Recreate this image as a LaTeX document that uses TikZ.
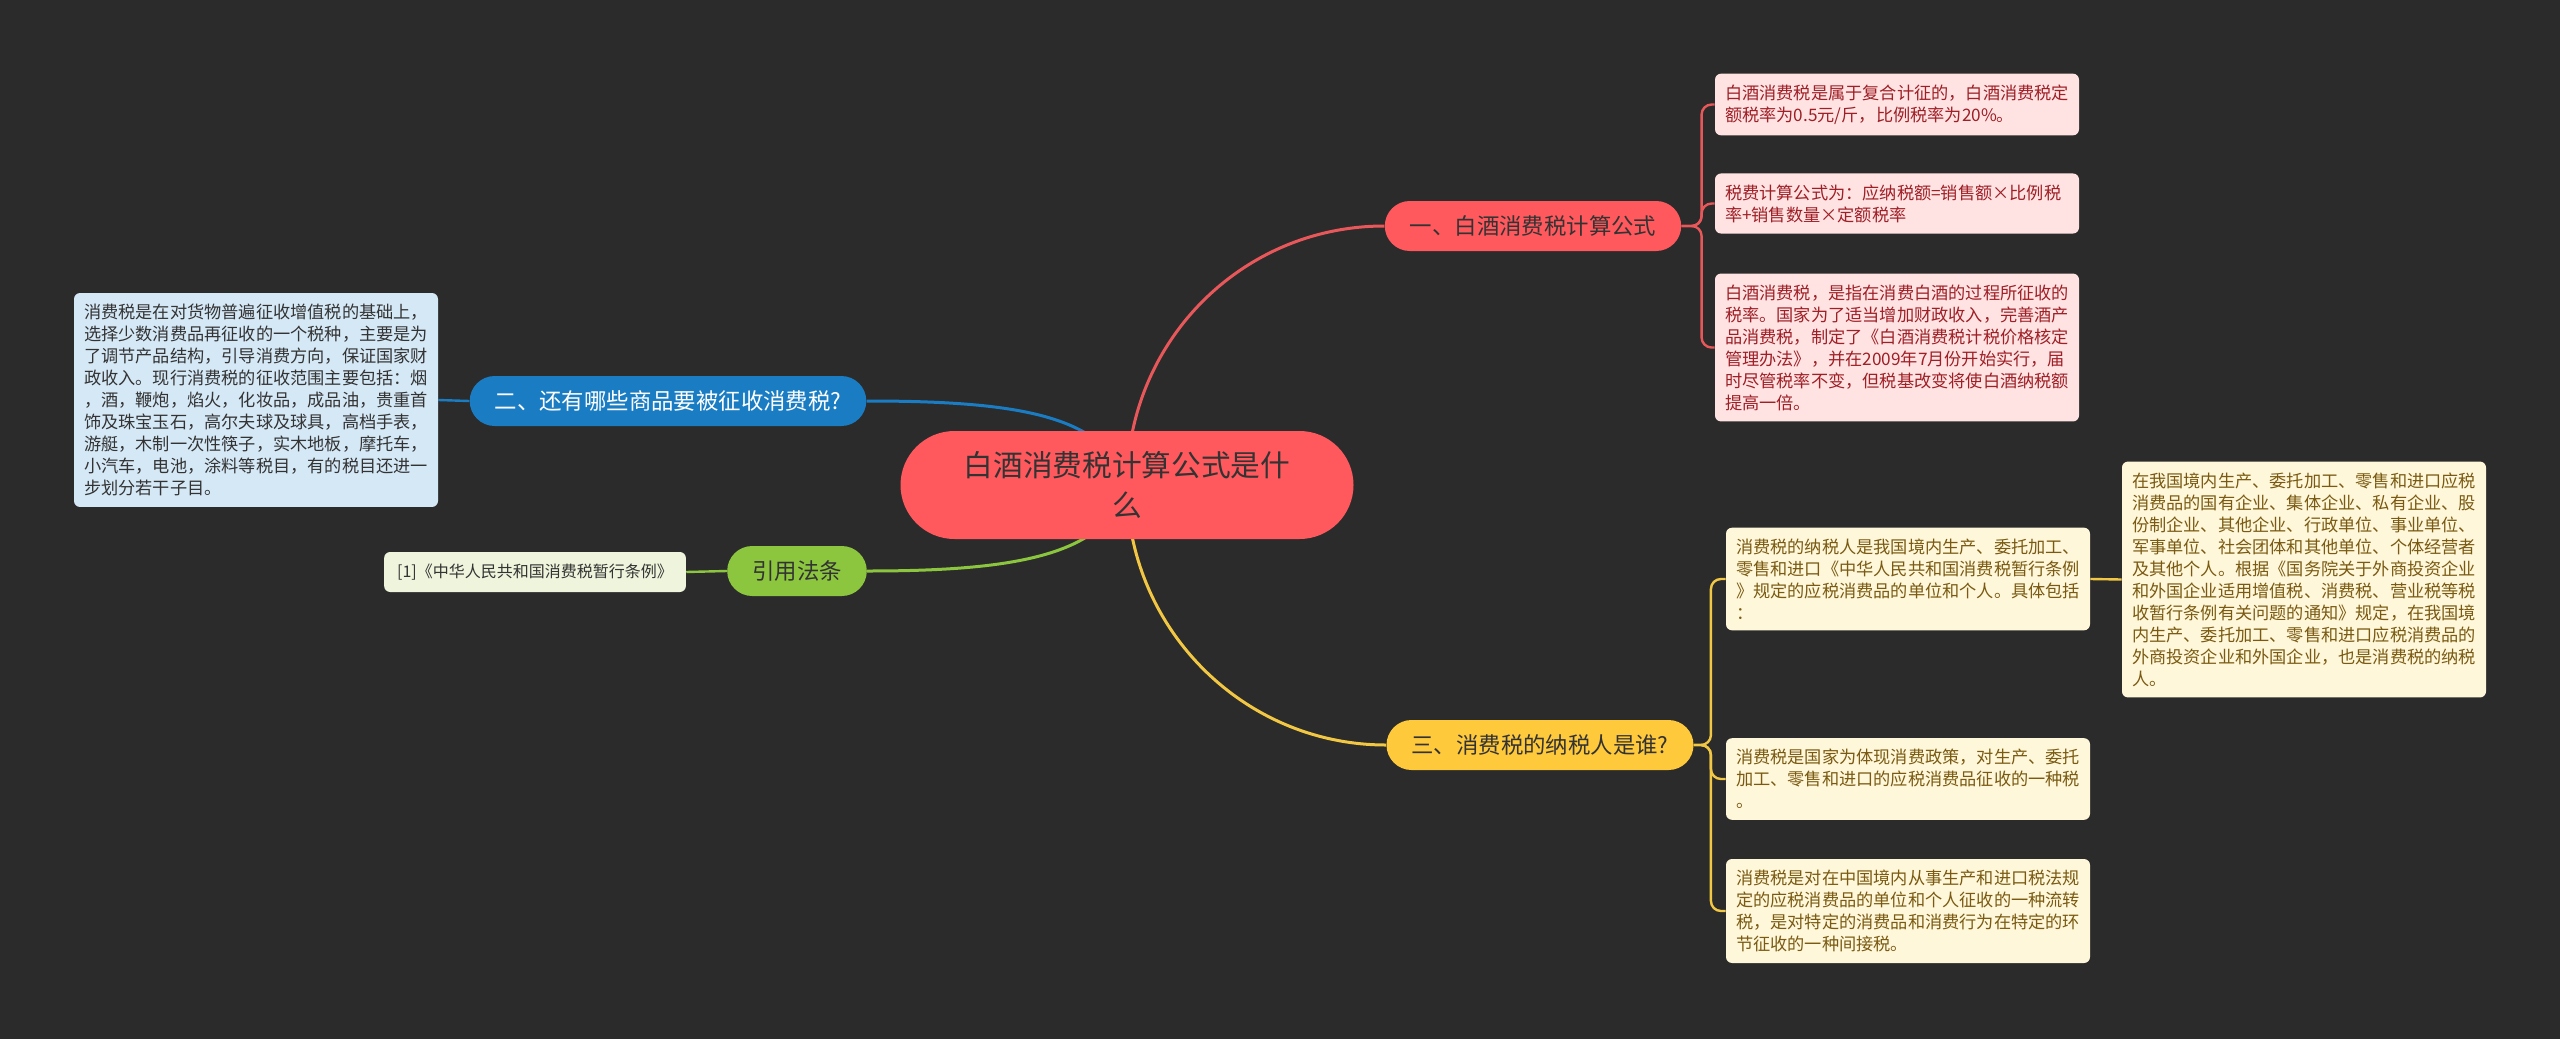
\documentclass[tikz,border=0pt]{standalone}
\usepackage{fontspec}
\setmainfont{Noto Sans CJK SC}
\usepackage{xcolor}
\definecolor{canvasgray}{HTML}{2B2B2B}
\definecolor{topicred}{HTML}{FF595E}
\definecolor{linkred}{HTML}{E8575A}
\definecolor{leafpink}{HTML}{FFE3E3}
\definecolor{inkred}{HTML}{9E1F26}
\definecolor{topicblue}{HTML}{1A7DC4}
\definecolor{leafblue}{HTML}{D5E8F6}
\definecolor{topicgreen}{HTML}{8CC63F}
\definecolor{leafgreen}{HTML}{EEF5DC}
\definecolor{topicyellow}{HTML}{FFC93C}
\definecolor{linkyellow}{HTML}{F2C744}
\definecolor{leafcream}{HTML}{FFF7DA}
\definecolor{inkbrown}{HTML}{7A5A12}
\definecolor{inkdark}{HTML}{333333}
\pgfdeclarelayer{canvas}
\pgfdeclarelayer{edges}
\pgfsetlayers{canvas,edges,main}

\begin{document}
\begin{tikzpicture}[x=0.5pt, y=0.5pt,
        % Define styles for the boxes and the connectors
        topic/.style={fill=topicred, text=inkdark, rounded corners=27pt, minimum width=226.5pt, minimum height=54pt, align=center, font=\fontsize{14.85pt}{20pt}\selectfont},
        branch/.style={rounded corners=12.5pt, minimum height=25pt, inner xsep=12.5pt, inner ysep=0pt, text=inkdark, font=\fontsize{11.2pt}{14pt}\selectfont},
        leaf/.style={rounded corners=3pt, text width=172pt, inner xsep=5pt, inner ysep=5.5pt, align=left, font=\fontsize{8.6pt}{11pt}\selectfont},
        link/.style={line width=1.5pt},
        twig/.style={line width=1.2pt, rounded corners=5pt}]

        \begin{pgfonlayer}{canvas}
        \fill[canvasgray] (0,0) rectangle (2560,-1039);
        \end{pgfonlayer}
        \useasboundingbox (0,0) rectangle (2560,-1039);

        % 1. Define the centres of the boxes
        \coordinate (R) at (1127,-485); % The central topic
        \coordinate (C) at (1533,-226);
        \coordinate (G) at (668,-401);
        \coordinate (L) at (797,-571);
        \coordinate (P) at (1540,-745);

        % 2. Central topic and the four branches
        \node[topic] (root) at (R) {白酒消费税计算公式是什\\么};
        \node[branch, fill=topicred] (calc) at (C) {一、白酒消费税计算公式};
        \node[branch, fill=topicblue, text=white] (goods) at (G) {二、还有哪些商品要被征收消费税?};
        \node[branch, fill=topicgreen] (law) at (L) {引用法条};
        \node[branch, fill=topicyellow] (payer) at (P) {三、消费税的纳税人是谁?};

        % 3. Leaves of branch one
        \node[leaf, fill=leafpink, text=inkred] (calcA) at (1897,-104.5)
            {白酒消费税是属于复合计征的，白酒消费税定\\额税率为0.5元/斤，比例税率为20\%。};
        \node[leaf, fill=leafpink, text=inkred] (calcB) at (1897,-203.5)
            {税费计算公式为：应纳税额=销售额×比例税\\率+销售数量×定额税率};
        \node[leaf, fill=leafpink, text=inkred] (calcC) at (1897,-347.5)
            {白酒消费税，是指在消费白酒的过程所征收的\\税率。国家为了适当增加财政收入，完善酒产\\品消费税，制定了《白酒消费税计税价格核定\\管理办法》，并在2009年7月份开始实行，届\\时尽管税率不变，但税基改变将使白酒纳税额\\提高一倍。};

        % 4. Leaves of branch two and the law branch
        \node[leaf, fill=leafblue, text=inkdark] (goodsA) at (256,-400)
            {消费税是在对货物普遍征收增值税的基础上，\\选择少数消费品再征收的一个税种，主要是为\\了调节产品结构，引导消费方向，保证国家财\\政收入。现行消费税的征收范围主要包括：烟\\，酒，鞭炮，焰火，化妆品，成品油，贵重首\\饰及珠宝玉石，高尔夫球及球具，高档手表，\\游艇，木制一次性筷子，实木地板，摩托车，\\小汽车，电池，涂料等税目，有的税目还进一\\步划分若干子目。};
        \node[rounded corners=3pt, fill=leafgreen, text=inkdark, inner xsep=6.5pt, minimum height=20pt, font=\fontsize{8pt}{10pt}\selectfont] (lawA) at (535,-572)
            {[1]《中华人民共和国消费税暂行条例》};

        % 5. Leaves of branch three
        \node[leaf, fill=leafcream, text=inkbrown] (payerA) at (1908,-579)
            {消费税的纳税人是我国境内生产、委托加工、\\零售和进口《中华人民共和国消费税暂行条例\\》规定的应税消费品的单位和个人。具体包括\\：};
        \node[leaf, fill=leafcream, text=inkbrown] (payerSub) at (2304,-579.5)
            {在我国境内生产、委托加工、零售和进口应税\\消费品的国有企业、集体企业、私有企业、股\\份制企业、其他企业、行政单位、事业单位、\\军事单位、社会团体和其他单位、个体经营者\\及其他个人。根据《国务院关于外商投资企业\\和外国企业适用增值税、消费税、营业税等税\\收暂行条例有关问题的通知》规定，在我国境\\内生产、委托加工、零售和进口应税消费品的\\外商投资企业和外国企业，也是消费税的纳税\\人。};
        \node[leaf, fill=leafcream, text=inkbrown] (payerB) at (1908,-779)
            {消费税是国家为体现消费政策，对生产、委托\\加工、零售和进口的应税消费品征收的一种税\\。};
        \node[leaf, fill=leafcream, text=inkbrown] (payerC) at (1908,-911)
            {消费税是对在中国境内从事生产和进口税法规\\定的应税消费品的单位和个人征收的一种流转\\税，是对特定的消费品和消费行为在特定的环\\节征收的一种间接税。};

        % 6. Connectors, drawn below the boxes
        \begin{pgfonlayer}{edges}
        \draw[link, linkred] (root.center) .. controls +(0,143) and +(-143,0) .. (calc.west);
        \draw[link, topicblue] (root.center) .. controls +(-20,70) and +(150,0) .. (goods.east);
        \draw[link, topicgreen] (root.center) .. controls +(-20,-70) and +(150,0) .. (law.east);
        \draw[link, linkyellow] (root.center) .. controls +(0,-143) and +(-143,0) .. (payer.west);

        \draw[twig, linkred] (calc.east) -- ++(20,0) |- (calcA.west);
        \draw[twig, linkred] (calc.east) -- ++(20,0) |- (calcB.west);
        \draw[twig, linkred] (calc.east) -- ++(20,0) |- (calcC.west);
        \draw[twig, topicblue] (goods.west) -- (goodsA.east);
        \draw[twig, topicgreen] (law.west) -- (lawA.east);
        \draw[twig, linkyellow] (payer.east) -- ++(17,0) |- (payerA.west);
        \draw[twig, linkyellow] (payer.east) -- ++(17,0) |- (payerB.west);
        \draw[twig, linkyellow] (payer.east) -- ++(17,0) |- (payerC.west);
        \draw[twig, linkyellow] (payerA.east) -- (payerSub.west);
        \end{pgfonlayer}

    \end{tikzpicture}
\end{document}
